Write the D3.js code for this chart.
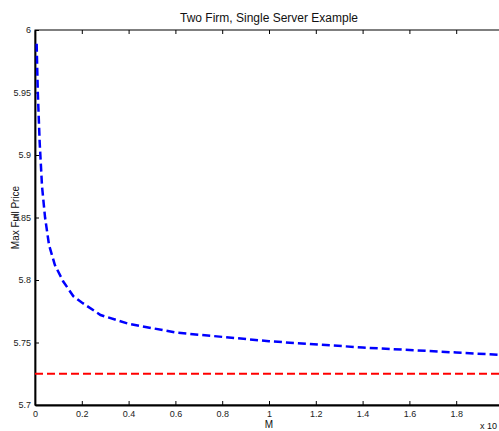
<!DOCTYPE html>
<html>
<head>
<meta charset="utf-8">
<script src="https://cdn.jsdelivr.net/npm/d3@7"></script>
<style>
  body { margin: 0; background: #fff; }
  svg { display: block; font-family: "Liberation Sans", Arial, sans-serif; }
</style>
</head>
<body>
<svg width="499" height="431"></svg>
<script>
// M in units of 10^4
const mValues = [0.007, 0.012, 0.02, 0.03, 0.043, 0.06, 0.085, 0.12, 0.164, 0.2, 0.28, 0.4, 0.6, 1.0, 1.4, 1.8, 2.0];
const maxFullPrice = [5.989, 5.95, 5.91, 5.875, 5.85, 5.828, 5.812, 5.799, 5.787, 5.782, 5.772, 5.765, 5.758, 5.751, 5.746, 5.742, 5.740];
const baselinePrice = 5.725;
const xTicks = [0, 0.2, 0.4, 0.6, 0.8, 1, 1.2, 1.4, 1.6, 1.8];
const yTicks = [5.7, 5.75, 5.8, 5.85, 5.9, 5.95, 6];

const svg = d3.select("svg");
const mLeft = 35, mRight = 503, mTop = 30, mBottom = 405;

const x = d3.scaleLinear().domain([0, 2]).range([mLeft, mRight]);
const y = d3.scaleLinear().domain([5.7, 6]).range([mBottom, mTop]);

// plot box (right edge falls outside the window)
svg.append("rect")
  .attr("x", mLeft).attr("y", mTop)
  .attr("width", mRight - mLeft).attr("height", mBottom - mTop)
  .attr("fill", "none").attr("stroke", "#000").attr("stroke-width", 1);

// bottom axis, ticks inward
svg.append("g")
  .attr("transform", `translate(0,${mBottom})`)
  .call(d3.axisBottom(x).tickValues(xTicks).tickSizeInner(-4).tickSizeOuter(0).tickPadding(6)
    .tickFormat(d => d3.format("")(d)))
  .call(g => g.select(".domain").attr("stroke-width", 1.8))
  .call(g => g.selectAll("text").attr("font-size", 9).attr("fill", "#222"));

// top ticks
svg.append("g")
  .attr("transform", `translate(0,${mTop})`)
  .call(d3.axisTop(x).tickValues(xTicks).tickSizeInner(-4).tickSizeOuter(0).tickFormat(""))
  .call(g => g.select(".domain").remove());

// left axis
svg.append("g")
  .attr("transform", `translate(${mLeft},0)`)
  .call(d3.axisLeft(y).tickValues(yTicks).tickSizeInner(-4).tickSizeOuter(0).tickPadding(4)
    .tickFormat(d => d3.format("")(+d.toFixed(2))))
  .call(g => g.select(".domain").attr("stroke-width", 1.8))
  .call(g => g.selectAll("text").attr("font-size", 9).attr("fill", "#222"));

// red constant line
svg.append("line")
  .attr("x1", x(0)).attr("x2", x(2))
  .attr("y1", y(baselinePrice)).attr("y2", y(baselinePrice))
  .attr("stroke", "#ff0000").attr("stroke-width", 2.2)
  .attr("stroke-dasharray", "8,4");

// blue curve
const line = d3.line().x((d, i) => x(mValues[i])).y(d => y(d));
svg.append("path")
  .datum(maxFullPrice)
  .attr("d", line)
  .attr("fill", "none")
  .attr("stroke", "#0000ff").attr("stroke-width", 2.5)
  .attr("stroke-dasharray", "8,4");

// labels
svg.append("text")
  .attr("x", x(1)).attr("y", 22)
  .attr("text-anchor", "middle").attr("font-size", 12).attr("fill", "#111")
  .text("Two Firm, Single Server Example");

svg.append("text")
  .attr("x", x(1)).attr("y", 428)
  .attr("text-anchor", "middle").attr("font-size", 10).attr("fill", "#111")
  .text("M");

svg.append("text")
  .attr("transform", `translate(19,${(mTop + mBottom) / 2}) rotate(-90)`)
  .attr("text-anchor", "middle").attr("font-size", 10).attr("fill", "#111")
  .text("Max Full Price");

svg.append("text")
  .attr("x", 480).attr("y", 429)
  .attr("font-size", 9).attr("fill", "#111")
  .text("x 10");
</script>
</body>
</html>
